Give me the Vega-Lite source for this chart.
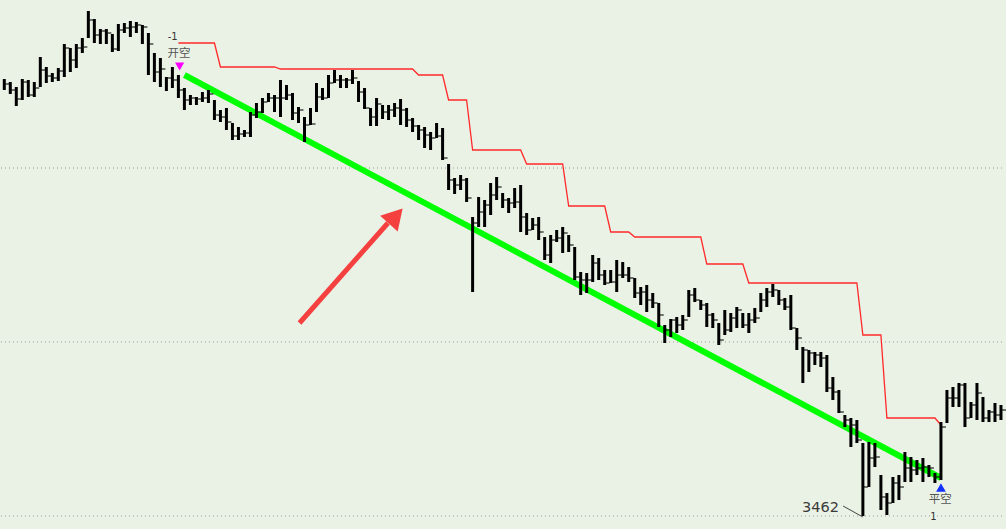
{
  "$schema": "https://vega.github.io/schema/vega-lite/v6.json",
  "width": 1006,
  "height": 529,
  "autosize": {"type": "fit", "contains": "padding"},
  "padding": 0,
  "background": "#eaf2e6",
  "config": {"view": {"stroke": null}, "axis": {"disable": true}},
  "datasets": {
    "bars": [
      {"i":0,"h":3899,"l":3888,"c":3894},{"i":1,"h":3896,"l":3884,"c":3888},{"i":2,"h":3891,"l":3872,"c":3879},{"i":3,"h":3899,"l":3878,"c":3896},{"i":4,"h":3898,"l":3881,"c":3883},{"i":5,"h":3896,"l":3881,"c":3890},{"i":6,"h":3921,"l":3891,"c":3908},{"i":7,"h":3911,"l":3895,"c":3902},{"i":8,"h":3905,"l":3896,"c":3900},{"i":9,"h":3910,"l":3897,"c":3907},
      {"i":10,"h":3934,"l":3901,"c":3930},{"i":11,"h":3930,"l":3906,"c":3918},{"i":12,"h":3934,"l":3910,"c":3930},{"i":13,"h":3940,"l":3925,"c":3931},{"i":14,"h":3967,"l":3940,"c":3958},{"i":15,"h":3959,"l":3935,"c":3943},{"i":16,"h":3949,"l":3934,"c":3947},{"i":17,"h":3949,"l":3934,"c":3945},{"i":18,"h":3944,"l":3926,"c":3929},{"i":19,"h":3954,"l":3927,"c":3948},
      {"i":20,"h":3955,"l":3945,"c":3950},{"i":21,"h":3957,"l":3941,"c":3951},{"i":22,"h":3956,"l":3945,"c":3953},{"i":23,"h":3953,"l":3934,"c":3951},{"i":24,"h":3945,"l":3903,"c":3934},{"i":25,"h":3925,"l":3896,"c":3906},{"i":26,"h":3920,"l":3891,"c":3909},{"i":27,"h":3901,"l":3887,"c":3900},{"i":28,"h":3911,"l":3890,"c":3898},{"i":29,"h":3903,"l":3880,"c":3888},
      {"i":30,"h":3890,"l":3868,"c":3878},{"i":31,"h":3883,"l":3873,"c":3880},{"i":32,"h":3881,"l":3873,"c":3879},{"i":33,"h":3886,"l":3876,"c":3880},{"i":34,"h":3888,"l":3875,"c":3884},{"i":35,"h":3878,"l":3858,"c":3863},{"i":36,"h":3868,"l":3856,"c":3861},{"i":37,"h":3870,"l":3848,"c":3856},{"i":38,"h":3855,"l":3838,"c":3842},{"i":39,"h":3851,"l":3838,"c":3844},
      {"i":40,"h":3848,"l":3841,"c":3845},{"i":41,"h":3866,"l":3841,"c":3863},{"i":42,"h":3875,"l":3860,"c":3866},{"i":43,"h":3880,"l":3865,"c":3876},{"i":44,"h":3885,"l":3876,"c":3880},{"i":45,"h":3883,"l":3866,"c":3880},{"i":46,"h":3898,"l":3861,"c":3880},{"i":47,"h":3893,"l":3878,"c":3883},{"i":48,"h":3885,"l":3858,"c":3865},{"i":49,"h":3871,"l":3855,"c":3868},
      {"i":50,"h":3861,"l":3836,"c":3853},{"i":51,"h":3870,"l":3853,"c":3854},{"i":52,"h":3895,"l":3866,"c":3881},{"i":53,"h":3890,"l":3878,"c":3880},{"i":54,"h":3903,"l":3880,"c":3895},{"i":55,"h":3908,"l":3895,"c":3898},{"i":56,"h":3903,"l":3890,"c":3898},{"i":57,"h":3900,"l":3890,"c":3898},{"i":58,"h":3908,"l":3894,"c":3900},{"i":59,"h":3897,"l":3876,"c":3886},
      {"i":60,"h":3890,"l":3869,"c":3870},{"i":61,"h":3870,"l":3852,"c":3861},{"i":62,"h":3880,"l":3852,"c":3874},{"i":63,"h":3873,"l":3859,"c":3866},{"i":64,"h":3873,"l":3858,"c":3868},{"i":65,"h":3875,"l":3861,"c":3870},{"i":66,"h":3879,"l":3853,"c":3868},{"i":67,"h":3870,"l":3851,"c":3858},{"i":68,"h":3860,"l":3846,"c":3852},{"i":69,"h":3853,"l":3838,"c":3848},
      {"i":70,"h":3851,"l":3830,"c":3843},{"i":71,"h":3846,"l":3828,"c":3840},{"i":72,"h":3855,"l":3840,"c":3842},{"i":73,"h":3850,"l":3818,"c":3820},{"i":74,"h":3814,"l":3788,"c":3798},{"i":75,"h":3800,"l":3784,"c":3793},{"i":76,"h":3803,"l":3788,"c":3798},{"i":77,"h":3800,"l":3776,"c":3780},{"i":78,"h":3761,"l":3686,"c":3755},{"i":79,"h":3781,"l":3751,"c":3766},
      {"i":80,"h":3778,"l":3751,"c":3773},{"i":81,"h":3795,"l":3763,"c":3783},{"i":82,"h":3801,"l":3778,"c":3791},{"i":83,"h":3785,"l":3770,"c":3778},{"i":84,"h":3780,"l":3765,"c":3775},{"i":85,"h":3790,"l":3770,"c":3776},{"i":86,"h":3793,"l":3746,"c":3761},{"i":87,"h":3765,"l":3743,"c":3748},{"i":88,"h":3760,"l":3748,"c":3753},{"i":89,"h":3761,"l":3738,"c":3746},
      {"i":90,"h":3741,"l":3718,"c":3723},{"i":91,"h":3743,"l":3715,"c":3738},{"i":92,"h":3748,"l":3736,"c":3740},{"i":93,"h":3751,"l":3725,"c":3745},{"i":94,"h":3743,"l":3726,"c":3733},{"i":95,"h":3731,"l":3698,"c":3701},{"i":96,"h":3706,"l":3683,"c":3698},{"i":97,"h":3705,"l":3685,"c":3698},{"i":98,"h":3723,"l":3696,"c":3715},{"i":99,"h":3720,"l":3698,"c":3703},
      {"i":100,"h":3708,"l":3693,"c":3695},{"i":101,"h":3708,"l":3695,"c":3696},{"i":102,"h":3718,"l":3686,"c":3703},{"i":103,"h":3716,"l":3700,"c":3703},{"i":104,"h":3711,"l":3696,"c":3700},{"i":105,"h":3700,"l":3680,"c":3685},{"i":106,"h":3691,"l":3673,"c":3686},{"i":107,"h":3693,"l":3666,"c":3678},{"i":108,"h":3685,"l":3670,"c":3675},{"i":109,"h":3675,"l":3651,"c":3663},
      {"i":110,"h":3653,"l":3635,"c":3648},{"i":111,"h":3659,"l":3641,"c":3658},{"i":112,"h":3661,"l":3645,"c":3653},{"i":113,"h":3663,"l":3648,"c":3658},{"i":114,"h":3688,"l":3661,"c":3683},{"i":115,"h":3690,"l":3676,"c":3678},{"i":116,"h":3678,"l":3668,"c":3673},{"i":117,"h":3675,"l":3651,"c":3663},{"i":118,"h":3665,"l":3650,"c":3658},{"i":119,"h":3655,"l":3633,"c":3638},
      {"i":120,"h":3668,"l":3643,"c":3648},{"i":121,"h":3665,"l":3646,"c":3660},{"i":122,"h":3671,"l":3650,"c":3668},{"i":123,"h":3665,"l":3650,"c":3653},{"i":124,"h":3665,"l":3645,"c":3658},{"i":125,"h":3670,"l":3655,"c":3660},{"i":126,"h":3685,"l":3666,"c":3678},{"i":127,"h":3690,"l":3671,"c":3686},{"i":128,"h":3694,"l":3681,"c":3688},{"i":129,"h":3688,"l":3673,"c":3678},
      {"i":130,"h":3680,"l":3668,"c":3671},{"i":131,"h":3683,"l":3648,"c":3650},{"i":132,"h":3650,"l":3628,"c":3640},{"i":133,"h":3631,"l":3595,"c":3628},{"i":134,"h":3628,"l":3606,"c":3625},{"i":135,"h":3626,"l":3613,"c":3623},{"i":136,"h":3626,"l":3611,"c":3620},{"i":137,"h":3623,"l":3586,"c":3590},{"i":138,"h":3601,"l":3578,"c":3586},{"i":139,"h":3588,"l":3565,"c":3566},
      {"i":140,"h":3563,"l":3551,"c":3558},{"i":141,"h":3560,"l":3531,"c":3553},{"i":142,"h":3558,"l":3535,"c":3538},{"i":143,"h":3535,"l":3462,"c":3491},{"i":144,"h":3536,"l":3491,"c":3520},{"i":145,"h":3535,"l":3511,"c":3521},{"i":146,"h":3503,"l":3468,"c":3481},{"i":147,"h":3485,"l":3463,"c":3475},{"i":148,"h":3501,"l":3475,"c":3495},{"i":149,"h":3503,"l":3478,"c":3491},
      {"i":150,"h":3526,"l":3496,"c":3510},{"i":151,"h":3521,"l":3496,"c":3508},{"i":152,"h":3518,"l":3503,"c":3510},{"i":153,"h":3520,"l":3496,"c":3511},{"i":154,"h":3513,"l":3501,"c":3510},{"i":155,"h":3505,"l":3495,"c":3501},{"i":156,"h":3556,"l":3498,"c":3551},{"i":157,"h":3588,"l":3555,"c":3580},{"i":158,"h":3591,"l":3571,"c":3580},{"i":159,"h":3595,"l":3571,"c":3593},
      {"i":160,"h":3595,"l":3551,"c":3560},{"i":161,"h":3576,"l":3560,"c":3573},{"i":162,"h":3595,"l":3558,"c":3585},{"i":163,"h":3581,"l":3556,"c":3560},{"i":164,"h":3568,"l":3556,"c":3566},{"i":165,"h":3575,"l":3556,"c":3563},{"i":166,"h":3573,"l":3558,"c":3568}
    ],
    "stop": [
      {"i":29,"p":3935},{"i":35,"p":3935},{"i":36,"p":3911},{"i":45,"p":3911},{"i":46,"p":3909},{"i":68,"p":3909},{"i":69,"p":3903},{"i":73,"p":3903},{"i":74,"p":3878},{"i":77,"p":3878},{"i":78,"p":3828},{"i":86,"p":3828},{"i":87,"p":3814},{"i":93,"p":3814},{"i":94,"p":3772},{"i":100,"p":3772},{"i":101,"p":3746},{"i":104,"p":3746},{"i":105,"p":3741},{"i":116,"p":3741},{"i":117,"p":3714},{"i":123,"p":3714},{"i":124,"p":3695},{"i":142,"p":3695},{"i":143,"p":3643},{"i":146,"p":3643},{"i":147,"p":3560},{"i":155,"p":3560},{"i":156,"p":3553}
    ]
  },
  "layer": [
    {
      "data": {"values": [{"p":3462},{"p":3636},{"p":3810}]},
      "mark": {"type": "rule", "color": "#9a9a9a", "strokeWidth": 1, "strokeDash": [1, 3]},
      "encoding": {
        "y": {"field": "p", "type": "quantitative", "scale": {"domain": [3449, 3978], "nice": false, "zero": false}}
      }
    },
    {
      "data": {"name": "stop"},
      "mark": {"type": "line", "color": "#ff2a2a", "strokeWidth": 1.3},
      "encoding": {
        "x": {"field": "i", "type": "quantitative", "scale": {"domain": [-0.547, 166.17], "nice": false, "zero": false}},
        "y": {"field": "p", "type": "quantitative", "scale": {"domain": [3449, 3978], "nice": false, "zero": false}}
      }
    },
    {
      "data": {"values": [{"i":30,"p":3903},{"i":156,"p":3500}]},
      "mark": {"type": "line", "color": "#00ff00", "strokeWidth": 6, "strokeCap": "butt"},
      "encoding": {
        "x": {"field": "i", "type": "quantitative", "scale": {"domain": [-0.547, 166.17], "nice": false, "zero": false}},
        "y": {"field": "p", "type": "quantitative", "scale": {"domain": [3449, 3978], "nice": false, "zero": false}}
      }
    },
    {
      "data": {"name": "bars"},
      "mark": {"type": "rule", "color": "#000000", "strokeWidth": 3, "strokeCap": "butt"},
      "encoding": {
        "x": {"field": "i", "type": "quantitative", "scale": {"domain": [-0.547, 166.17], "nice": false, "zero": false}},
        "y": {"field": "l", "type": "quantitative", "scale": {"domain": [3449, 3978], "nice": false, "zero": false}},
        "y2": {"field": "h"}
      }
    },
    {
      "data": {"name": "bars"},
      "mark": {"type": "tick", "orient": "horizontal", "color": "#000000", "size": 4, "thickness": 1.5, "xOffset": 3},
      "encoding": {
        "x": {"field": "i", "type": "quantitative", "scale": {"domain": [-0.547, 166.17], "nice": false, "zero": false}},
        "y": {"field": "c", "type": "quantitative", "scale": {"domain": [3449, 3978], "nice": false, "zero": false}}
      }
    },
    {
      "data": {"values": [{"i":49.17,"p":3655},{"i":63.9,"p":3755}]},
      "mark": {"type": "line", "color": "#f54040", "strokeWidth": 5, "strokeCap": "butt"},
      "encoding": {
        "x": {"field": "i", "type": "quantitative", "scale": {"domain": [-0.547, 166.17], "nice": false, "zero": false}},
        "y": {"field": "p", "type": "quantitative", "scale": {"domain": [3449, 3978], "nice": false, "zero": false}}
      }
    },
    {
      "data": {"values": [{"i":65.2,"p":3762}]},
      "mark": {"type": "point", "shape": "triangle-up", "filled": true, "color": "#f54040", "opacity": 1, "size": 560, "angle": 42},
      "encoding": {
        "x": {"field": "i", "type": "quantitative", "scale": {"domain": [-0.547, 166.17], "nice": false, "zero": false}},
        "y": {"field": "p", "type": "quantitative", "scale": {"domain": [3449, 3978], "nice": false, "zero": false}}
      }
    },
    {
      "data": {"values": [{"i":29.2,"p":3911.5}]},
      "mark": {"type": "point", "shape": "triangle-down", "filled": true, "color": "#ff00ff", "opacity": 1, "size": 85},
      "encoding": {
        "x": {"field": "i", "type": "quantitative", "scale": {"domain": [-0.547, 166.17], "nice": false, "zero": false}},
        "y": {"field": "p", "type": "quantitative", "scale": {"domain": [3449, 3978], "nice": false, "zero": false}}
      }
    },
    {
      "data": {"values": [{"i":156,"p":3490.5}]},
      "mark": {"type": "point", "shape": "triangle-up", "filled": true, "color": "#1430ff", "opacity": 1, "size": 95},
      "encoding": {
        "x": {"field": "i", "type": "quantitative", "scale": {"domain": [-0.547, 166.17], "nice": false, "zero": false}},
        "y": {"field": "p", "type": "quantitative", "scale": {"domain": [3449, 3978], "nice": false, "zero": false}}
      }
    },
    {
      "data": {"values": [{"i":139.7,"p":3472},{"i":143,"p":3461}]},
      "mark": {"type": "line", "color": "#444444", "strokeWidth": 1},
      "encoding": {
        "x": {"field": "i", "type": "quantitative", "scale": {"domain": [-0.547, 166.17], "nice": false, "zero": false}},
        "y": {"field": "p", "type": "quantitative", "scale": {"domain": [3449, 3978], "nice": false, "zero": false}}
      }
    },
    {
      "data": {"values": [{"i":28.04,"p":3941,"t":"-1"},{"i":154.75,"p":3461,"t":"1"}]},
      "mark": {"type": "text", "font": "DejaVu Sans", "fontSize": 10, "color": "#333333", "align": "center", "baseline": "middle"},
      "encoding": {
        "x": {"field": "i", "type": "quantitative", "scale": {"domain": [-0.547, 166.17], "nice": false, "zero": false}},
        "y": {"field": "p", "type": "quantitative", "scale": {"domain": [3449, 3978], "nice": false, "zero": false}},
        "text": {"field": "t"}
      }
    },
    {
      "data": {"values": [{"i":29.1,"p":3924.5,"t":"开空"},{"i":155.9,"p":3478,"t":"平空"}]},
      "mark": {"type": "text", "font": "Noto Sans CJK SC", "fontSize": 11.5, "color": "#555555", "align": "center", "baseline": "middle"},
      "encoding": {
        "x": {"field": "i", "type": "quantitative", "scale": {"domain": [-0.547, 166.17], "nice": false, "zero": false}},
        "y": {"field": "p", "type": "quantitative", "scale": {"domain": [3449, 3978], "nice": false, "zero": false}},
        "text": {"field": "t"}
      }
    },
    {
      "data": {"values": [{"i":139.0,"p":3470.5,"t":"3462"}]},
      "mark": {"type": "text", "font": "DejaVu Sans", "fontSize": 14.5, "color": "#3a3a3a", "align": "right", "baseline": "middle"},
      "encoding": {
        "x": {"field": "i", "type": "quantitative", "scale": {"domain": [-0.547, 166.17], "nice": false, "zero": false}},
        "y": {"field": "p", "type": "quantitative", "scale": {"domain": [3449, 3978], "nice": false, "zero": false}},
        "text": {"field": "t"}
      }
    }
  ]
}
